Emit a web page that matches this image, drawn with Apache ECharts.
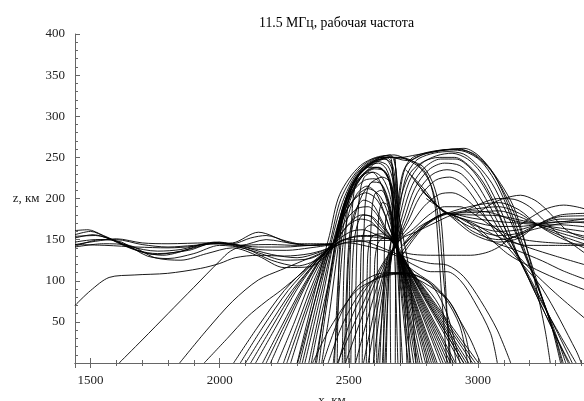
<!DOCTYPE html>
<html><head><meta charset="utf-8">
<script src="https://cdn.jsdelivr.net/npm/echarts@6/dist/echarts.min.js"></script>
<style>html,body{margin:0;padding:0;background:#fff}#c{width:584px;height:401px}</style>
</head><body><div id="c"></div>
<script>
const titleText = '11.5 МГц, рабочая частота';
const xName = 'x, км';
const zName = 'z, км';
const xTickLabels = [1500, 2000, 2500, 3000];
const zTickLabels = [50, 100, 150, 200, 250, 300, 350, 400];

// rays: flat lists x,z,x,z,... (km)
const ductRays = [
 [1440,156,1500,160,1560,153,1650,140,1750,132,1850,136,1950,145,2050,146,2150,159,2270,146,2350,143,2440,145],
 [1440,154,1520,155,1600,148,1700,135,1780,131,1900,140,2000,147,2080,143,2180,150,2300,145,2440,145],
 [1440,152,1510,156,1580,150,1680,137,1760,133,1880,137,1980,146,2060,144,2150,138,2260,137,2350,140,2440,144],
 [1440,147,1520,150,1600,150,1700,144,1800,141,1900,143,2000,145,2080,142,2200,132,2300,128,2380,134,2440,143],
 [1440,144,1520,148,1600,151,1700,146,1800,145,1950,146,2050,143,2150,134,2250,125,2350,127,2440,142],
 [1440,142,1540,150,1620,147,1720,130,1800,127,1900,133,2000,143,2100,139,2200,125,2300,118,2380,126,2440,141],
 [1440,141,1550,145,1650,143,1750,128,1850,125,1950,133,2050,140,2150,130,2250,116,2350,117,2440,140],
 [1440,144,1560,143,1680,141,1800,140,1900,142,1980,147,2060,144,2150,141,2250,141,2350,143,2440,144],
 [1440,161,1490,162,1550,155,1650,142,1760,136,1850,138,1950,145,2050,145,2120,152,2180,155,2260,148,2350,143,2440,145],
 [1440,70,1500,88,1572,104,1669,107,1798,109,1926,115,2000,121,2060,128,2150,131,2250,130,2350,133,2440,141],
 [1611,0,1700,28,1800,60,1900,92,2000,124,2042,136,2100,143,2200,144,2300,143,2440,144]
];

const groundRays = [
 [1845,0,1950,40,2050,75,2150,101,2236,113,2320,124,2400,135,2440,145,2462,172,2495,205,2545,232,2605,246,2650,249,2674,235,2684,200,2687,170,2686,150,2695,109,2730,0],
 [1940,0,2030,30,2107,56,2180,75,2236,88,2320,110,2400,132,2445,148,2468,175,2505,208,2555,230,2605,238,2645,230,2668,205,2680,175,2682,150,2705,109,2775,0],
 [2054,0,2150,45,2250,88,2350,120,2440,146,2475,178,2515,208,2560,222,2600,224,2635,212,2660,187,2672,168,2678,150,2713,109,2812,0],
 [2080,0,2170,45,2265,88,2360,121,2442,147,2470,175,2505,205,2550,226,2600,236,2640,233,2664,215,2676,185,2681,160,2682,150,2702,109,2760,0],
 [2100,0,2190,45,2280,88,2370,122,2445,148,2482,180,2525,200,2565,207,2605,200,2640,180,2660,162,2674,150,2719,109,2842,0],
 [2120,0,2205,45,2290,89,2375,124,2448,149,2486,182,2530,203,2575,212,2615,205,2645,188,2663,168,2675,150,2715,109,2820,0],
 [2139,0,2220,45,2300,90,2380,125,2450,150,2492,175,2535,188,2575,190,2610,180,2640,163,2670,150,2726,109,2875,0],
 [2166,0,2240,45,2320,92,2390,127,2455,152,2500,168,2545,175,2585,172,2625,160,2666,150,2734,109,2913,0],
 [2180,0,2253,47,2327,93,2395,128,2457,151,2505,171,2550,180,2590,178,2628,166,2655,156,2669,150,2728,109,2885,0],
 [2197,0,2265,48,2335,95,2400,130,2460,150,2510,160,2555,162,2600,157,2635,153,2663,150,2742,109,2955,0],
 [2224,0,2290,50,2350,98,2410,132,2465,148,2520,153,2570,154,2620,152,2661,150,2748,109,2990,0],
 [2247,0,2305,50,2365,100,2420,135,2480,146,2550,148,2610,149,2662,149,2744,109,2965,0],
 [2260,0,2318,52,2375,102,2425,137,2485,150,2545,155,2600,155,2640,152,2664,150,2740,109,2945,0]
];

const domeRays = [
 [2345,0,2405,90,2440,145,2462,170,2495,202,2540,229,2590,244,2630,251,2660,253,2678,243,2688,215,2690,180,2688,150,2690,109,2708,0],
 [2370,0,2420,90,2447,140,2465,165,2492,197,2530,224,2575,239,2615,243,2645,236,2667,214,2678,182,2684,150,2700,109,2751,0],
 [2395,0,2425,60,2450,120,2463,150,2482,180,2510,207,2550,228,2590,232,2622,220,2648,196,2665,170,2680,150,2710,109,2797,0],
 [2440,0,2455,50,2468,110,2480,150,2500,182,2530,205,2570,215,2605,207,2635,185,2657,165,2676,150,2716,109,2828,0],
 [2482,0,2488,60,2495,120,2505,160,2525,185,2558,198,2593,193,2625,175,2650,160,2672,150,2722,109,2856,0],
 [2508,0,2512,90,2518,140,2532,167,2555,180,2585,178,2615,167,2645,157,2668,150,2730,109,2894,0],
 [2540,0,2545,100,2550,145,2565,164,2590,168,2620,162,2645,155,2665,150,2738,109,2933,0],
 [2568,0,2572,120,2580,147,2600,156,2628,157,2650,153,2662,150,2746,109,2979,0],
 [2597,0,2600,120,2612,145,2635,152,2660,150,2750,109,3002,0],
 [2455,0,2460,100,2466,150,2478,185,2500,210,2540,232,2590,245,2640,248,2668,235,2680,200,2684,170,2687,150,2697,109,2740,0],
 [2475,0,2480,100,2487,150,2498,195,2520,220,2560,238,2610,245,2650,240,2672,220,2681,185,2683,150,2703,109,2768,0],
 [2500,0,2503,100,2508,150,2517,200,2535,226,2575,238,2620,237,2655,222,2672,195,2680,165,2681,150,2708,109,2785,0],
 [2525,0,2528,100,2533,160,2542,205,2560,226,2595,232,2630,225,2658,205,2672,178,2679,150,2712,109,2805,0],
 [2552,0,2555,100,2560,170,2568,205,2590,220,2625,218,2652,200,2670,175,2677,150,2718,109,2835,0],
 [2580,0,2582,100,2588,180,2600,205,2625,210,2650,198,2667,176,2675,150,2724,109,2865,0],
 [2608,0,2610,100,2615,175,2630,195,2650,192,2665,175,2673,150,2732,109,2905,0],
 [2635,0,2637,120,2643,175,2657,185,2668,170,2671,150,2740,109,2945,0]
];

const spineRays = [
 [2355,0,2380,40,2430,110,2455,160,2490,198,2540,228,2600,244,2650,250,2675,250,2682,230,2688,180,2695,109,2700,0],
 [2725,0,2712,109,2695,180,2684,230,2678,248,2700,249,2740,246,2790,238,2830,215,2855,180,2870,120,2890,0],
 [2385,0,2405,50,2440,120,2460,155,2490,190,2535,220,2590,240,2640,248,2668,240,2672,210,2668,170,2655,109,2640,0],
 [2445,0,2455,80,2468,140,2488,180,2525,213,2570,233,2615,238,2650,228,2666,205,2672,170,2680,109,2690,0],
 [2488,0,2492,60,2500,130,2518,172,2550,203,2590,220,2630,226,2660,220,2678,200,2690,170,2718,109,2735,0],
 [2680,0,2682,109,2690,170,2700,210,2720,238,2760,250,2820,256,2890,259,2950,257,3010,246,3065,222,3110,192,3160,150,3230,95,3300,30,3325,0],
 [2620,0,2640,109,2680,170,2705,205,2740,232,2790,245,2850,250,2910,250,2965,240,3020,220,3070,190,3110,160,3170,120,3260,60,3350,0],
 [2375,0,2420,95,2450,150,2475,188,2520,222,2580,242,2630,250,2660,250,2670,230,2685,200,2700,170,2735,109,2760,0],
 [2400,0,2470,60,2540,95,2610,108,2680,110,2750,108,2820,95,2880,60,2930,0]
];

const outerRays = [
 [2330,0,2390,80,2440,148,2480,190,2533,226,2596,244,2649,250,2700,250,2750,245,2800,230,2830,200,2845,150,2860,80,2880,0],
 [2320,0,2385,85,2435,150,2475,195,2530,230,2600,248,2675,253,2727,247,2780,236,2820,215,2845,180,2865,110,2885,40,2895,0],
 [2310,0,2380,90,2430,150,2470,200,2540,236,2620,250,2700,250,2760,253,2850,258,2946,261,3010,250,3088,218,3138,190,3180,150,3220,100,3260,40,3280,0],
 [2300,0,2375,95,2425,155,2465,205,2545,240,2640,252,2727,246,2800,255,2900,260,2980,255,3050,235,3100,205,3150,165,3200,120,3280,50,3320,0]
];

const focusRays = [
 [2662,0,2660,109,2675,150,2688,190,2708,230,2740,248,2790,255,2860,259,2930,260,2990,252,3050,234,3100,208,3140,182,3180,148,3240,88,3300,32,3330,0],
 [2645,0,2656,109,2678,150,2695,185,2720,225,2760,246,2815,254,2880,257,2945,254,3000,240,3055,218,3100,190,3150,155,3215,105,3290,45,3340,0],
 [2630,0,2652,109,2681,150,2700,182,2733,220,2780,242,2840,252,2900,255,2960,248,3010,232,3060,204,3100,177,3150,135,3200,100,3260,60,3330,15,3355,0],
 [2612,0,2648,109,2684,150,2708,180,2745,216,2795,238,2855,248,2915,248,2970,237,3020,216,3065,190,3105,163,3160,128,3240,80,3350,10,3365,0],
 [2595,0,2644,109,2687,150,2715,176,2755,212,2810,235,2870,243,2930,240,2980,225,3030,200,3070,176,3110,152,3160,125,3260,66,3380,0],
 [2575,0,2639,109,2690,150,2722,173,2765,207,2822,229,2880,235,2935,230,2985,212,3035,187,3080,163,3130,140,3200,115,3300,85,3430,50],
 [2557,0,2634,109,2692,150,2728,171,2775,202,2835,222,2890,226,2940,218,2990,198,3040,172,3090,150,3150,128,3250,90,3380,15,3400,0],
 [2526,0,2626,109,2695,150,2737,167,2790,190,2850,205,2900,207,2950,200,3000,186,3060,166,3120,150,3200,140,3300,130,3430,118],
 [2487,0,2617,109,2698,150,2750,163,2810,180,2870,190,2930,190,2990,180,3060,165,3150,152,3250,147,3430,144],
 [2456,0,2610,109,2700,150,2765,160,2830,170,2900,180,2980,185,3060,182,3150,172,3250,170,3430,176]
];

const lensArcs = [
 [2360,0,2430,44,2530,88,2623,104,2690,108,2751,104,2830,90,2883,77,2930,52,2972,28,3010,0],
 [2420,0,2480,50,2560,92,2640,107,2720,109,2800,100,2870,80,2930,45,2960,0],
 [2460,0,2510,55,2580,96,2650,109,2710,109,2780,98,2850,70,2900,30,2915,0],
 [2275,0,2330,55,2385,105,2432,140,2490,150,2560,148,2630,140,2690,132,2750,126,2817,121,2881,119,2945,105,3010,76,3075,40,3127,0],
 [2302,0,2355,60,2400,110,2438,140,2500,146,2570,142,2640,136,2700,128,2760,118,2817,111,2881,111,2933,100,2984,76,3049,36,3075,0],
 [2700,125,2760,110,2830,95,2900,70,2950,35,2972,0]
];

const bandRays = [
 [2700,140,2770,165,2880,182,2980,191,3080,195,3160,186,3230,168,3320,152,3430,138],
 [2720,235,2790,212,2840,192,2880,182,2980,187,3080,190,3160,182,3230,168,3320,155,3430,143],
 [2705,135,2780,163,2880,181,2980,183,3080,185,3160,178,3230,168,3320,158,3430,148],
 [2740,228,2800,205,2845,190,2880,182,2980,180,3080,179,3160,174,3230,169,3320,161,3430,153],
 [2710,142,2790,167,2880,182,2980,176,3080,172,3160,170,3230,168,3320,164,3430,159],
 [2760,220,2820,198,2880,183,2980,172,3080,166,3160,166,3230,168,3320,168,3430,165],
 [2705,130,2790,165,2880,182,2980,168,3080,160,3160,162,3230,168,3320,172,3430,170],
 [2780,210,2840,192,2880,182,2980,164,3080,155,3160,158,3230,168,3320,175,3430,175],
 [2715,145,2800,170,2880,182,2980,160,3080,150,3160,155,3230,168,3320,178,3430,179],
 [2800,200,2880,182,2980,157,3080,147,3160,152,3230,168,3320,180,3430,182],
 [2705,135,2750,132,2817,131,2900,131,2972,131,3030,134,3075,140,3130,152,3190,160,3250,165,3330,170,3430,172],
 [2900,180,2980,170,3060,156,3130,147,3190,143,3300,143,3430,143],
 [2950,175,3049,149,3150,137,3250,124,3330,112,3430,100],
 [3000,165,3114,133,3204,117,3300,103,3430,87]
];

const rightArcs = [
 [2990,180,3050,193,3100,200,3165,204,3220,198,3260,188,3300,175,3350,160,3430,150],
 [3150,165,3210,178,3269,188,3332,192,3380,190,3430,186],
 [2950,185,3020,195,3080,200,3140,199,3200,190,3250,175,3300,160,3430,130]
];

const allRays = [].concat(ductRays, groundRays, domeRays, spineRays, outerRays, focusRays, lensArcs, bandRays, rightArcs);

function toPairs(flat) {
  const out = [];
  for (let i = 0; i < flat.length; i += 2) out.push([flat[i], flat[i + 1]]);
  return out;
}

const serif = 'Liberation Serif, Times New Roman, serif';
const axisGray = '#666';

const series = allRays.map(r => ({
  type: 'line', data: toPairs(r), showSymbol: false, smooth: 0.3,
  lineStyle: { color: '#000', width: 0.9 }, silent: true, clip: true, z: 1
}));

const chart = echarts.init(document.getElementById('c'), null, { renderer: 'canvas' });
const baseX = {
  type: 'value', min: 1440, max: 3430, splitNumber: 4, minInterval: 500, maxInterval: 500,
  axisLine: { show: true, lineStyle: { color: axisGray, width: 1 } },
  axisTick: { show: true, inside: true, length: 5, lineStyle: { color: axisGray } },
  minorTick: { show: true, splitNumber: 5, length: 3, lineStyle: { color: axisGray } },
  splitLine: { show: false }, minorSplitLine: { show: false }
};
const baseY = {
  type: 'value', min: 0, max: 400, interval: 50,
  axisLine: { show: true, lineStyle: { color: axisGray, width: 1 } },
  axisTick: { show: true, inside: true, length: 5, lineStyle: { color: axisGray } },
  minorTick: { show: true, splitNumber: 5, length: 3, lineStyle: { color: axisGray } },
  splitLine: { show: false }, minorSplitLine: { show: false }
};
chart.setOption({
  animation: false,
  backgroundColor: '#fff',
  title: { text: titleText, left: 254, top: 11,
    textStyle: { fontFamily: serif, fontSize: 13.8, fontWeight: 'normal', color: '#000' } },
  grid: { left: 75, right: -5, top: 34, bottom: 38, containLabel: false, outerBoundsMode: 'none' },
  xAxis: [
    Object.assign({}, baseX, { position: 'bottom',
      axisLabel: { formatter: v => xTickLabels.includes(v) ? String(v) : '', fontFamily: serif, fontSize: 13, color: '#222', margin: 11 },
      name: xName, nameLocation: 'middle', nameGap: 31,
      nameTextStyle: { fontFamily: serif, fontSize: 13, color: '#222' } }),
    Object.assign({}, baseX, { position: 'top', axisLabel: { show: false } })
  ],
  yAxis: [
    Object.assign({}, baseY, { position: 'left',
      axisLabel: { formatter: v => zTickLabels.includes(v) ? String(v) : '', fontFamily: serif, fontSize: 13, color: '#222', margin: 10 },
      name: zName, nameLocation: 'middle', nameGap: 35, nameRotate: 0,
      nameTextStyle: { fontFamily: serif, fontSize: 13, color: '#222', align: 'right' } }),
    Object.assign({}, baseY, { position: 'right', axisLabel: { show: false } })
  ],
  series: series
});
</script></body></html>
